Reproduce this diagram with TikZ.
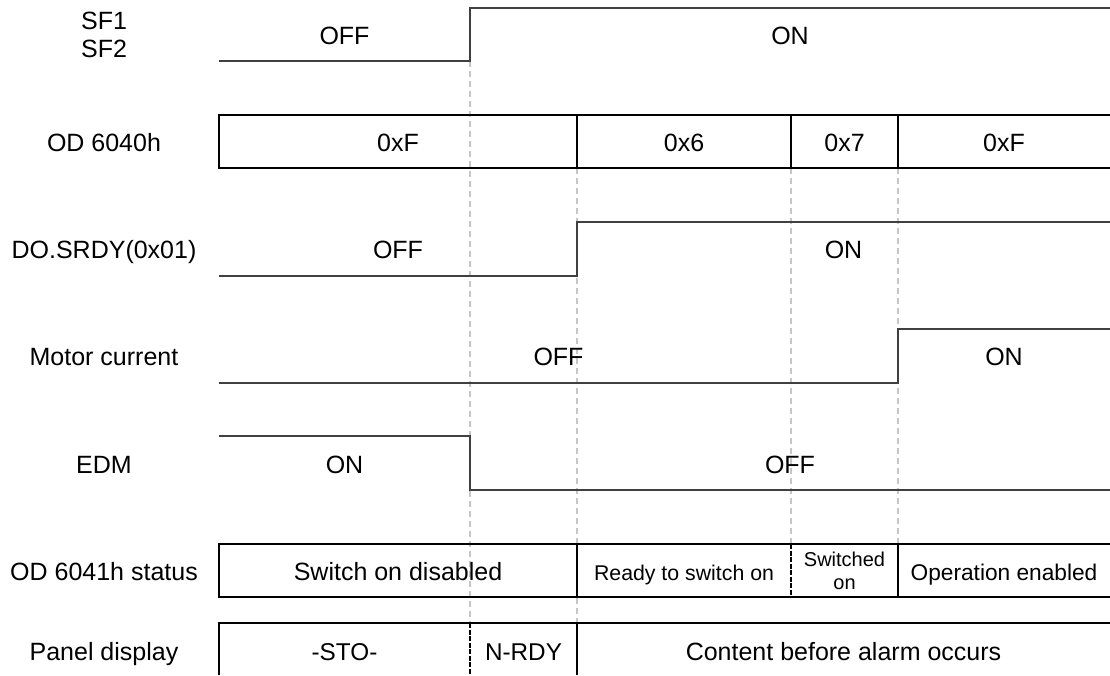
\documentclass[tikz,border=0pt]{standalone}
\usepackage{fontspec}
\setmainfont{Liberation Sans}
\usetikzlibrary{positioning}

\begin{document}
\begin{tikzpicture}[x=1pt,y=-1pt,
  every node/.style={font=\fontsize{25}{30}\selectfont,inner sep=0pt,text height=18pt,text depth=0pt},
  wave/.style={black!75,line width=1.5pt},
  frame/.style={black,line width=1.5pt},
  guide/.style={gray!45,line width=1.1pt,dash pattern=on 6pt off 4pt},
  cut/.style={black,line width=1.3pt,dash pattern=on 5pt off 1.5pt}]
\useasboundingbox (0,0) rectangle (1110,675);

% guide lines at the switching instants
\draw[guide] (470,61) -- (470,623);
\draw[guide] (577,168) -- (577,623);
\draw[guide] (791,168) -- (791,544);
\draw[guide] (898,168) -- (898,544);

% SF1 / SF2
\node (sf1) at (104,20) {SF1};
\node (sf2) at (104,48) {SF2};
\draw[wave] (219,61) -- (470,61) -- (470,8) -- (1110,8);
\node (sfoff) at (344.5,35) {OFF};
\node (sfon) at (790,35) {ON};

% OD 6040h
\node (cw) at (104,142) {OD 6040h};
\draw[frame] (1110,115) -- (219,115) -- (219,168) -- (1110,168);
\draw[frame] (577,115) -- (577,168) (791,115) -- (791,168) (898,115) -- (898,168);
\node (cwa) at (398,142) {0xF};
\node (cwb) at (684,142) {0x6};
\node (cwc) at (844.5,142) {0x7};
\node (cwd) at (1004,142) {0xF};

% DO.SRDY
\node (srdy) at (104,249) {DO.SRDY(0x01)};
\draw[wave] (219,276) -- (577,276) -- (577,222) -- (1110,222);
\node (srdyoff) at (398,249) {OFF};
\node (srdyon) at (843.5,249) {ON};

% motor current
\node (mc) at (104,356) {Motor current};
\draw[wave] (219,383) -- (898,383) -- (898,329) -- (1110,329);
\node (mcoff) at (558.5,356) {OFF};
\node (mcon) at (1004,356) {ON};

% EDM
\node (edm) at (104,464) {EDM};
\draw[wave] (219,436) -- (470,436) -- (470,490) -- (1110,490);
\node (edmon) at (344.5,464) {ON};
\node (edmoff) at (790,464) {OFF};

% OD 6041h status
\node (sw) at (104,571) {OD 6041h status};
\draw[frame] (1110,544) -- (219,544) -- (219,597) -- (1110,597);
\draw[frame] (577,544) -- (577,597) (898,544) -- (898,597);
\draw[cut] (791,544) -- (791,597);
\node (swa) at (398,571) {Switch on disabled};
\node[font=\fontsize{21.3}{26}\selectfont] (swb) at (684,571) {Ready to switch on};
\node[font=\fontsize{20}{23}\selectfont,align=center,text height={},text depth={}] (swc) at (844.5,571) {Switched\\on};
\node[font=\fontsize{22.7}{27}\selectfont] (swd) at (1004,571) {Operation enabled};

% panel display
\node (pd) at (104,651) {Panel display};
\draw[frame] (219,675) -- (219,623) -- (1110,623);
\draw[frame] (577,623) -- (577,675);
\draw[cut] (470,623) -- (470,675);
\node[font=\fontsize{24.3}{29}\selectfont] (pda) at (344.5,651) {-STO-};
\node[font=\fontsize{24.3}{29}\selectfont] (pdb) at (523.5,651) {N-RDY};
\node (pdc) at (843.5,651) {Content before alarm occurs};
\end{tikzpicture}
\end{document}
